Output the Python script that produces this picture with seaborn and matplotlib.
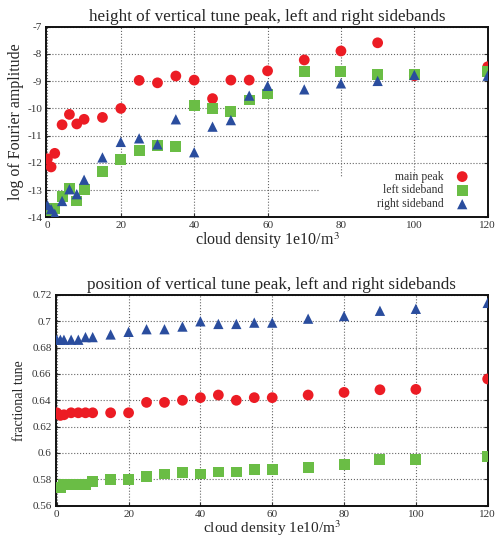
import numpy as np
import matplotlib
matplotlib.use('Agg')
import matplotlib.pyplot as plt
from matplotlib.patches import Rectangle
import seaborn as sns

sns.set_style('white')
plt.rcParams['font.family'] = ['Liberation Serif', 'DejaVu Serif']
plt.rcParams['axes.unicode_minus'] = False
plt.rcParams['mathtext.fontset'] = 'stix'

# cloud density 1e10/m^3
density = [0, 1, 2, 4, 6, 8, 10, 15, 20, 25, 30, 35, 40, 45, 50, 55, 60, 70, 80, 90, 100, 120]

# log of Fourier amplitude
height_main = [-11.85, -12.15, -11.65, -10.6, -10.22, -10.57, -10.4, -10.33, -10.0, -8.97, -9.06,
               -8.81, -8.96, -9.64, -8.96, -8.96, -8.62, -8.22, -7.89, -7.59, -8.8, -8.47]
height_left = [-13.75, -13.72, -13.68, -13.25, -12.94, -13.4, -12.97, -12.32, -11.86, -11.53, -11.37,
               -11.41, -9.9, -10.0, -10.12, -9.69, -9.47, -8.65, -8.65, -8.74, -8.77, -8.65]
height_right = [-13.55, -13.7, -13.87, -13.4, -12.97, -13.15, -12.62, -11.8, -11.23, -11.1, -11.32,
                -10.4, -11.61, -10.67, -10.43, -9.53, -9.17, -9.3, -9.08, -8.99, -8.77, -8.8]

# fractional tune
pos_main = [0.6305, 0.6285, 0.629, 0.6305, 0.6305, 0.6305, 0.6305, 0.6305, 0.6305, 0.6384, 0.6384,
            0.640, 0.642, 0.644, 0.640, 0.642, 0.642, 0.644, 0.646, 0.648, 0.6483, 0.6562]
pos_left = [0.574, 0.574, 0.576, 0.576, 0.576, 0.576, 0.578, 0.5795, 0.5795, 0.582, 0.584,
            0.585, 0.584, 0.5855, 0.5855, 0.5875, 0.5875, 0.589, 0.591, 0.595, 0.595, 0.597]
pos_right = [0.686, 0.686, 0.686, 0.686, 0.686, 0.688, 0.688, 0.690, 0.692, 0.694, 0.694,
             0.696, 0.700, 0.698, 0.698, 0.699, 0.699, 0.702, 0.704, 0.708, 0.7095, 0.714]

x_ticks = [0, 20, 40, 60, 80, 100, 120]
top_yticks = [-14, -13, -12, -11, -10, -9, -8, -7]
bot_yticks = [0.56, 0.58, 0.60, 0.62, 0.64, 0.66, 0.68, 0.70, 0.72]

RED = '#ec1c24'
GREEN = '#6abd45'
BLUE = '#2a4d9e'
XLABEL = r'cloud density 1e10/m$^3$'


def style_axes(ax, yticks, fmt):
    ax.set_xlim(-0.3, 120)
    ax.set_ylim(yticks[0], yticks[-1])
    ax.set_xticks(x_ticks)
    ax.set_yticks(yticks)
    ax.set_yticklabels([fmt(v) for v in yticks])
    ax.grid(True, linestyle=':', color='#666666', linewidth=0.8)
    ax.tick_params(direction='in', length=3, labelsize=8, left=True, right=True,
                   bottom=True, top=False, pad=3, colors='#333333')
    for sp in ax.spines.values():
        sp.set_color('#111111')
        sp.set_linewidth(1.4)


def draw_series(ax, main, left, right):
    sns.scatterplot(x=density, y=main, ax=ax, color=RED, marker='o', s=60,
                    edgecolor='none', label='main peak', zorder=3)
    sns.scatterplot(x=density, y=left, ax=ax, color=GREEN, marker='s', s=62,
                    edgecolor='none', label='left sideband', zorder=3)
    sns.scatterplot(x=density, y=right, ax=ax, color=BLUE, marker='^', s=55,
                    edgecolor='none', label='right sideband', zorder=3)


fig = plt.figure(figsize=(4.99, 5.39), dpi=100)
ax1 = fig.add_axes([0.0928, 0.5968, 0.8846, 0.3536])
ax2 = fig.add_axes([0.1116, 0.062, 0.8657, 0.3907])

# top panel
draw_series(ax1, height_main, height_left, height_right)
style_axes(ax1, top_yticks, lambda v: f'{v:d}')
ax1.add_patch(Rectangle((0.62, 0.0), 0.38, 0.21, transform=ax1.transAxes,
                        facecolor='white', edgecolor='none', zorder=2))
leg = ax1.legend(loc='lower right', markerfirst=False, frameon=False, fontsize=8.5,
                 handletextpad=0.6, labelspacing=0.15, borderaxespad=0.3,
                 borderpad=0.3, bbox_to_anchor=(0.985, 0.0))
for t in leg.get_texts():
    t.set_color('#333333')
ax1.set_title('height of vertical tune peak, left and right sidebands', fontsize=12.3, pad=4)
ax1.set_xlabel(XLABEL, fontsize=11.5, labelpad=0)
ax1.set_ylabel('log of Fourier amplitude', fontsize=11.5, labelpad=2)

# bottom panel
draw_series(ax2, pos_main, pos_left, pos_right)
style_axes(ax2, bot_yticks, lambda v: f'{v:g}')
ax2.get_legend().remove()
ax2.set_title('position of vertical tune peak, left and right sidebands', fontsize=12.3, pad=4)
ax2.set_xlabel(XLABEL, fontsize=11, labelpad=0)
ax2.set_ylabel('fractional tune', fontsize=10, labelpad=4)

fig.savefig('out.png', dpi=100)
